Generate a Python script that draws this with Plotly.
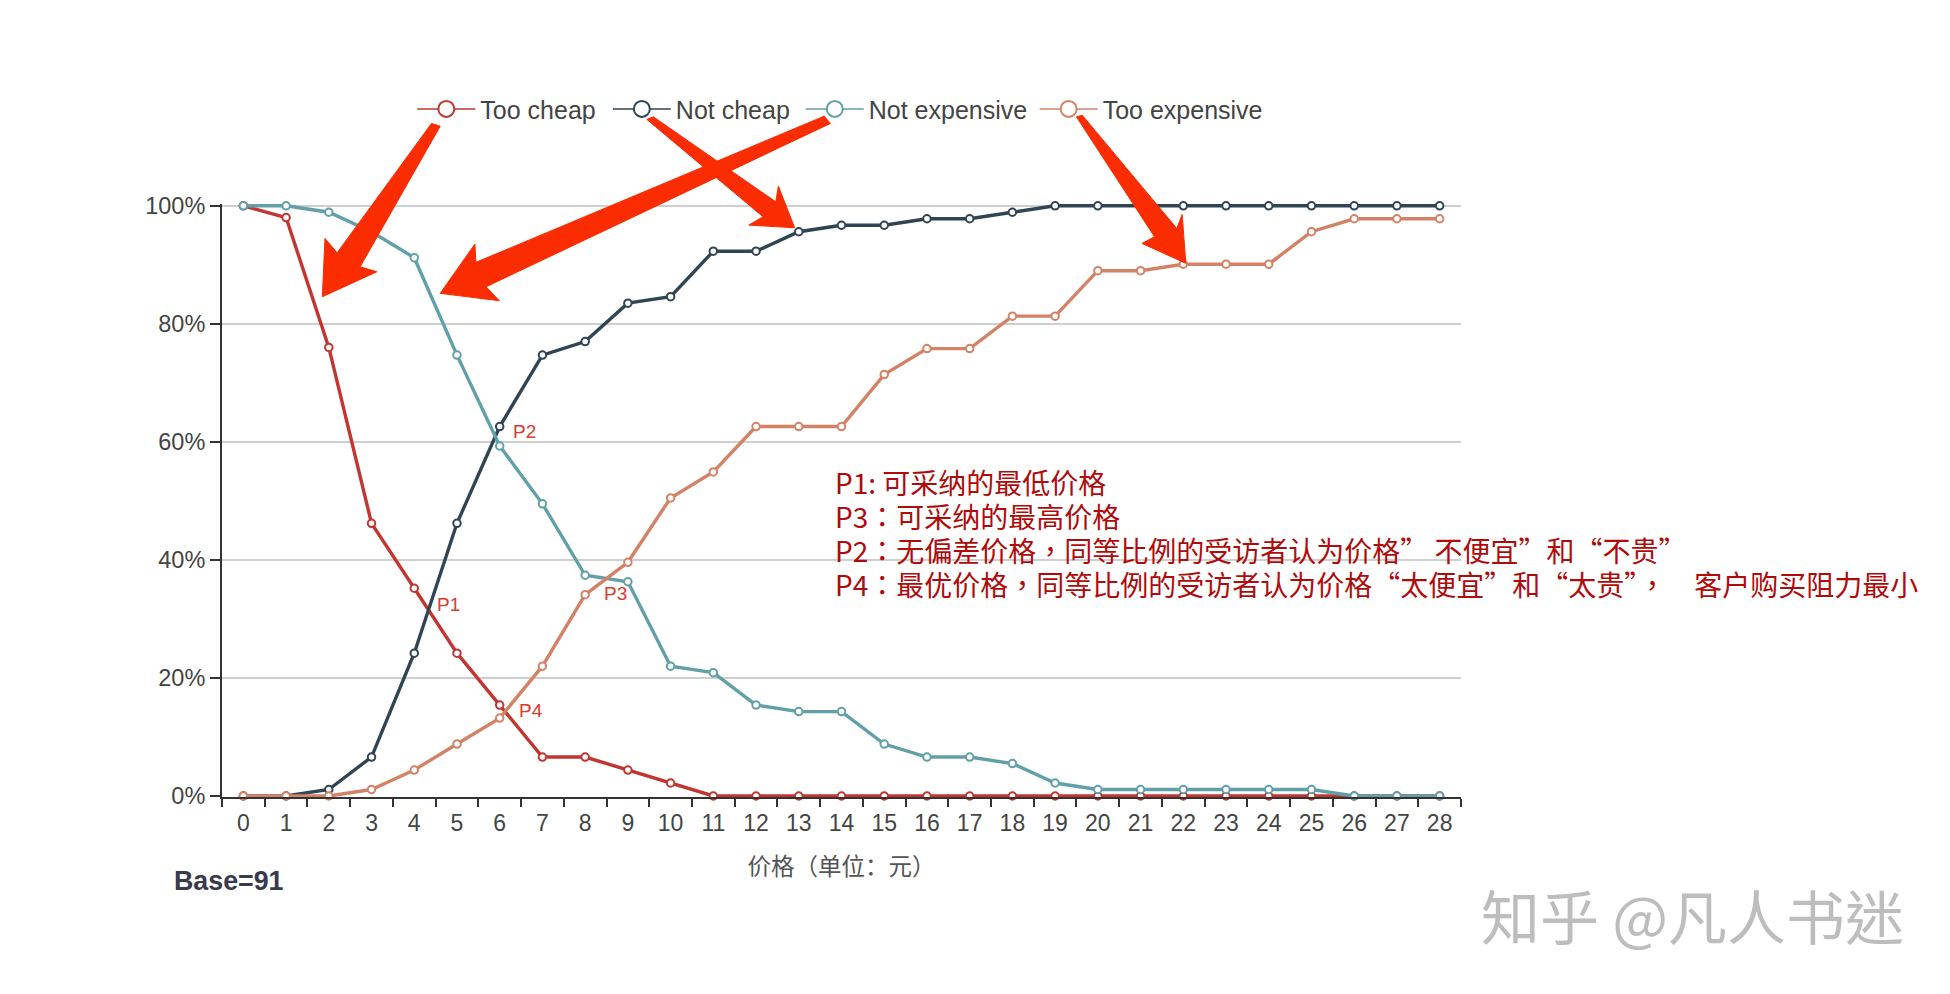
import plotly.graph_objects as go

# pixel box of the plot area in the 1950x994 page
WIDTH, HEIGHT = 1950, 994
LEFT, RIGHT, TOP, BOTTOM = 222, 1461.5, 203.9, 797.2
Y_RANGE = [-0.17, 100.3]  # a hair past 0 and 100 so the lines and the top grid line are not clipped

prices = [str(i) for i in range(29)]
too_cheap = [100, 98, 76, 46.2, 35.2, 24.2, 15.4, 6.6, 6.6, 4.4, 2.2, 0, 0, 0, 0,
             0, 0, 0, 0, 0, 0, 0, 0, 0, 0, 0, 0, 0, 0]
not_cheap = [0, 0, 1.1, 6.6, 24.2, 46.2, 62.6, 74.7, 77, 83.5, 84.6, 92.3, 92.3, 95.6, 96.7,
             96.7, 97.8, 97.8, 98.9, 100, 100, 100, 100, 100, 100, 100, 100, 100, 100]
not_expensive = [100, 100, 98.9, 95.6, 91.2, 74.7, 59.3, 49.5, 37.4, 36.3, 22, 20.9, 15.4, 14.3, 14.3,
                 8.8, 6.6, 6.6, 5.5, 2.2, 1.1, 1.1, 1.1, 1.1, 1.1, 1.1, 0, 0, 0]
too_expensive = [0, 0, 0, 1.1, 4.4, 8.8, 13.2, 22, 34.1, 39.6, 50.5, 54.9, 62.6, 62.6, 62.6,
                 71.4, 75.8, 75.8, 81.3, 81.3, 89, 89, 90.1, 90.1, 90.1, 95.6, 97.8, 97.8, 97.8]

series_names = ["Too cheap", "Not cheap", "Not expensive", "Too expensive"]
series_values = [too_cheap, not_cheap, not_expensive, too_expensive]
series_colors = ["#c23531", "#2f4554", "#61a0a8", "#d48265"]
legend_centers = [446.4, 642, 835, 1069]

point_labels = [("P1", 448.5, 605), ("P2", 524.5, 431.7), ("P3", 615.8, 594), ("P4", 531.6, 710.7)]

notes = [
    "P1: 可采纳的最低价格",
    "P3：可采纳的最高价格",
    "P2：无偏差价格，同等比例的受访者认为价格” 不便宜”和“不贵”",
    "P4：最优价格，同等比例的受访者认为价格“太便宜”和“太贵”，\u3000客户购买阻力最小",
]
note_y = [482.5, 516, 550, 584.5]

arrows = [
    [(431.6, 123.3), (337.2, 252.7), (325, 238.3), (322.4, 296.7), (377, 271.7), (360.2, 266.7), (440.3, 126)],
    [(824.5, 116), (476, 262.3), (475, 244), (440.3, 293.3), (499.5, 300.7), (486.2, 286.7), (830.6, 123.3)],
    [(653.6, 116.7), (776, 201.7), (778.6, 186), (794.9, 227.7), (749, 225), (763.3, 216.7), (647, 119.3)],
    [(1082.6, 115), (1177.2, 228.3), (1182.6, 214.3), (1186.2, 263.3), (1142.4, 243.3), (1154.9, 236.7), (1076.8, 116.7)],
]


def px(x, y):
    # page pixels to paper fractions
    return (x - LEFT) / (RIGHT - LEFT), (BOTTOM - y) / (BOTTOM - TOP)


def page_text(text, x, y, size, color, xanchor="left", family="Noto Sans CJK TC"):
    xp, yp = px(x, y)
    return dict(text=text, x=xp, y=yp, xref="paper", yref="paper", xanchor=xanchor, yanchor="middle",
                showarrow=False, font=dict(size=size, color=color, family=family))


fig = go.Figure()

for name, values, color in zip(series_names, series_values, series_colors):
    fig.add_trace(go.Scatter(
        x=prices, y=values, mode="lines+markers", name=name, legendgroup=name, showlegend=False,
        cliponaxis=False, line=dict(color=color, width=3.4),
        marker=dict(size=7.5, color="white", line=dict(color=color, width=2)),
    ))

# thin line + big circle in the legend, one legend per entry to get the reference spacing
legends = {}
for i, (name, color, center) in enumerate(zip(series_names, series_colors, legend_centers)):
    legend_id = "legend" if i == 0 else f"legend{i + 1}"
    fig.add_trace(go.Scatter(
        x=[None], y=[None], mode="lines+markers", name=name, legendgroup=name, legend=legend_id,
        line=dict(color=color, width=1.5),
        marker=dict(size=16, color="white", line=dict(color=color, width=2)),
    ))
    lx, ly = px(center - 34, 109)
    legends[legend_id] = dict(orientation="h", x=lx, y=ly, xanchor="left", yanchor="middle",
                              itemwidth=58, bgcolor="rgba(0,0,0,0)", font=dict(size=25, color="#444444"),
                              itemclick=False, itemdoubleclick=False)

annotations = [page_text(t, x, y, 19, "#e0392b", "center", "Liberation Sans") for t, x, y in point_labels]
annotations += [page_text(t, 833, y, 28, "#b00a0a") for t, y in zip(notes, note_y)]
annotations.append(page_text("<b>Base=91</b>", 172, 881, 26.8, "#3a3a4d", family="Liberation Sans"))
annotations.append(page_text("知乎 @凡人书迷", 1693, 915, 59, "#bdbdbd", "center"))

shapes = []
for points in arrows:
    fractions = [px(x, y) for x, y in points]
    path = "M " + " L ".join(f"{x:.5f} {y:.5f}" for x, y in fractions) + " Z"
    shapes.append(dict(type="path", path=path, xref="paper", yref="paper", layer="above",
                       fillcolor="#fb2c00", line=dict(color="#fb2c00", width=1)))

fig.update_layout(
    width=WIDTH, height=HEIGHT, autosize=False,
    margin=dict(l=LEFT, r=WIDTH - RIGHT, t=TOP, b=HEIGHT - BOTTOM, autoexpand=False),
    paper_bgcolor="white", plot_bgcolor="white",
    font=dict(family="Liberation Sans", color="#444444"),
    showlegend=True,
    annotations=annotations,
    shapes=shapes,
    xaxis=dict(
        type="category", categoryorder="array", categoryarray=prices, range=[-0.5, 28.5],
        tickson="boundaries", ticks="outside", ticklen=8, tickwidth=2, tickcolor="#333333",
        showline=True, linecolor="#333333", linewidth=2, showgrid=False, zeroline=False,
        tickfont=dict(size=23, color="#444444"), ticklabelstandoff=4,
        title=dict(text="价格（单位：元）", standoff=24,
                   font=dict(size=23.5, color="#555555", family="Noto Sans CJK SC")),
    ),
    yaxis=dict(
        range=Y_RANGE, tick0=0, dtick=20, ticksuffix="%", ticks="outside", ticklen=10,
        tickwidth=2, tickcolor="#333333",
        showline=True, linecolor="#333333", linewidth=2, gridcolor="#cfcfcf", gridwidth=2, zeroline=False,
        tickfont=dict(size=23.5, color="#444444"), ticklabelstandoff=0,
    ),
    **legends,
)

fig.write_html("out.html", config=dict(displayModeBar=False), post_script="document.body.style.margin='0';")
